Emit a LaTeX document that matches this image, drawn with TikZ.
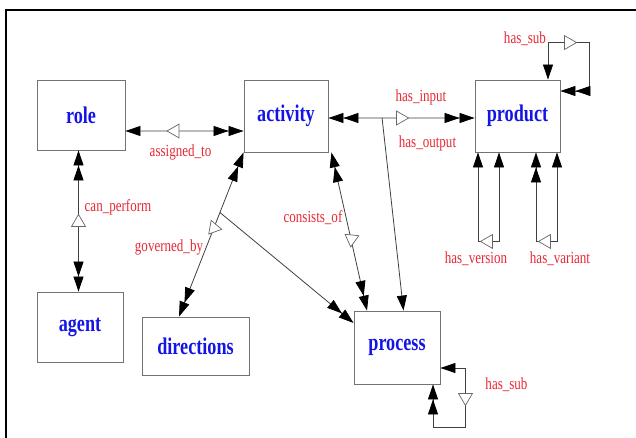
\documentclass[tikz,border=0pt]{standalone}
\usepackage{fontspec}
\usepackage{tikz}
\usetikzlibrary{shapes.geometric, arrows.meta, calc}
\newfontfamily\boxfont{Liberation Serif}[FakeStretch=0.76]
\newfontfamily\relfont{Liberation Serif}[FakeStretch=0.77]
\definecolor{relred}{RGB}{232,40,52}
\definecolor{boxblue}{RGB}{20,20,230}

\begin{document}
\begin{tikzpicture}[x=1bp, y=-1bp,
        entity/.style={draw=black!55, line width=0.9bp, text=boxblue,
            font=\boxfont\bfseries\fontsize{24}{24}\selectfont},
        rel/.style={text=relred, inner sep=0pt,
            font=\relfont\fontsize{17}{17}\selectfont},
        link/.style={draw=black!75, line width=0.8bp},
        reltri/.style={draw=black!60, fill=white, regular polygon,
            regular polygon sides=3, minimum size=16bp, inner sep=0pt, line width=0.7bp},
        >={Triangle[length=15bp, width=10bp, color=black]}]
        \useasboundingbox (0,0) rectangle (636,438);
        \draw[line width=1.6bp] (6,438) -- (6,10) -- (636,10);

        \node[entity, minimum width=88bp, minimum height=70bp] (ROLE) at (81,115) {role};
        \node[entity, minimum width=84bp, minimum height=72bp] (ACTIVITY) at (286,116) {activity};
        \node[entity, minimum width=85bp, minimum height=72bp] (PRODUCT) at (517.5,116) {product};
        \node[entity, minimum width=86bp, minimum height=70bp] (AGENT) at (80,327) {agent};
        \node[entity, minimum width=107bp, minimum height=58bp] (DIRECTIONS) at (195.5,346) {directions};
        \node[entity, minimum width=86bp, minimum height=73bp] (PROCESS) at (397,347.5) {process};

        \node[rel] (ASSIGNED) at (180.5,152) {assigned\_to};
        \node[rel] (CANPERF) at (118,207) {can\_perform};
        \node[rel] (GOVERNED) at (169,247) {governed\_by};
        \node[rel] (CONSISTS) at (313,218) {consists\_of};
        \node[rel] (HASIN) at (421,97) {has\_input};
        \node[rel] (HASOUT) at (427.5,143) {has\_output};
        \node[rel] (PSUB) at (525,39) {has\_sub};
        \node[rel] (HASVER) at (476,259) {has\_version};
        \node[rel] (HASVAR) at (560,259) {has\_variant};
        \node[rel] (XSUB) at (506.5,385) {has\_sub};

        \coordinate (DIRTOP) at ([xshift=-16.5bp]DIRECTIONS.north);
        \coordinate (GOVJ) at ($(ACTIVITY.south west)!0.366!(DIRTOP)$);
        \coordinate (IOJ) at ($([yshift=-2bp]ACTIVITY.east)!0.367!([yshift=-2bp]PRODUCT.west)$);

        \draw[link, <->>] ([yshift=-16bp]ROLE.east) -- node[reltri, rotate=90, pos=0.42] (ASSIGNTRI) {} ([yshift=-15bp]ACTIVITY.west);
        \draw[link, <<->>] ([xshift=-2.5bp]ROLE.south) -- node[reltri, pos=0.51] (PERFTRI) {} ([xshift=-1.5bp]AGENT.north);
        \draw[link, <<->>] (ACTIVITY.south west) -- node[reltri, rotate=-100, pos=0.46] (GOVTRI) {} (DIRTOP);
        \draw[link, ->>] (GOVJ) -- ([yshift=24.5bp]PROCESS.west);
        \draw[link, <<->>] ([xshift=3bp]ACTIVITY.south east) -- node[reltri, rotate=-66, pos=0.53, xshift=3bp] (CONSTRI) {} ([xshift=-30bp]PROCESS.north);
        \draw[link, <<-] ([yshift=-2bp]ACTIVITY.east) -- (IOJ);
        \draw[link, ->>] (IOJ) -- node[reltri, rotate=-90, pos=0.2] (IOTRI) {} ([yshift=-2bp]PRODUCT.west);
        \draw[link, ->] (IOJ) -- ([xshift=6.5bp]PROCESS.north);
        \draw[link, <->>] ([xshift=30.5bp]PRODUCT.north) -- ++(0,-37) -- node[reltri, rotate=-90, pos=0.5] (PSUBTRI) {} ++(41,0) |- ([yshift=25bp]PRODUCT.east);
        \draw[link, <->] ([xshift=-39.5bp]PRODUCT.south) -- ++(0,89) -| node[reltri, rotate=90, pos=0.25] (VERTRI) {} ([xshift=-18.5bp]PRODUCT.south);
        \draw[link, <<->] ([xshift=18.5bp]PRODUCT.south) -- ++(0,89) -| node[reltri, rotate=90, pos=0.25] (VARTRI) {} ([xshift=39.5bp]PRODUCT.south);
        \draw[link, <->>] ([yshift=-20.5bp]PROCESS.east) -- ++(25,0) -- node[reltri, rotate=180, pos=0.5] (XSUBTRI) {} ++(0,59) -| ([xshift=36bp]PROCESS.south);
\end{tikzpicture}
\end{document}
